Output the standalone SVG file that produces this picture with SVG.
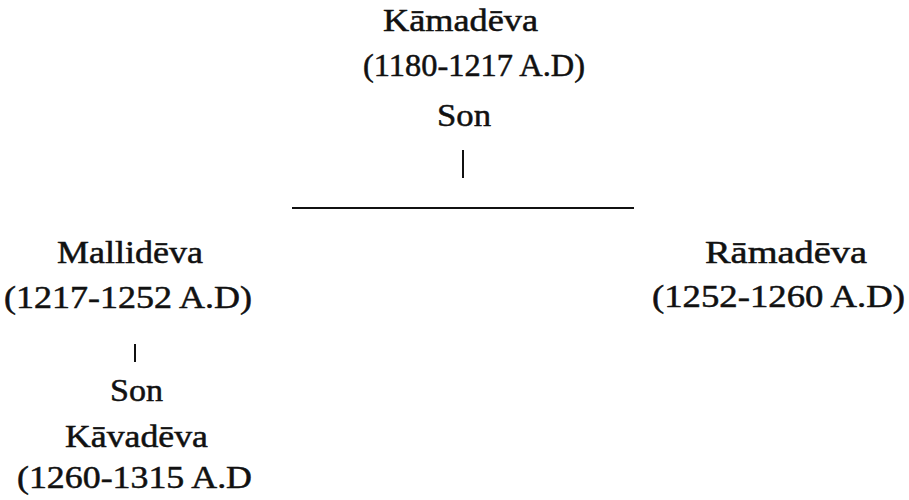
<svg xmlns="http://www.w3.org/2000/svg" width="909" height="500" viewBox="0 0 909 500">
<style>
text{font-family:"Liberation Serif","Times New Roman",serif;font-size:31px;fill:#111;stroke:#111;stroke-width:0.5;}
.c{stroke:#111;stroke-width:2;fill:none;}
</style>
<rect width="909" height="500" fill="#fff"/>
<g id="kamadeva">
<text x="383" y="31" textLength="155" lengthAdjust="spacingAndGlyphs">Kāmadēva</text>
<text x="363" y="76" textLength="222" lengthAdjust="spacingAndGlyphs">(1180-1217 A.D)</text>
<text x="437" y="126" textLength="54" lengthAdjust="spacingAndGlyphs">Son</text>
</g>
<g id="mallideva">
<text x="57" y="263" textLength="146" lengthAdjust="spacingAndGlyphs">Mallidēva</text>
<text x="4" y="308" textLength="248" lengthAdjust="spacingAndGlyphs">(1217-1252 A.D)</text>
<text x="110" y="401" textLength="53" lengthAdjust="spacingAndGlyphs">Son</text>
</g>
<g id="kavadeva">
<text x="65" y="447" textLength="143" lengthAdjust="spacingAndGlyphs">Kāvadēva</text>
<text x="17" y="488" textLength="235" lengthAdjust="spacingAndGlyphs">(1260-1315 A.D</text>
</g>
<g id="ramadeva">
<text x="705" y="263" textLength="162" lengthAdjust="spacingAndGlyphs">Rāmadēva</text>
<text x="652" y="307" textLength="253" lengthAdjust="spacingAndGlyphs">(1252-1260 A.D)</text>
</g>
<g id="connectors">
<line class="c" x1="463" y1="150" x2="463" y2="178"/>
<line class="c" x1="292" y1="208" x2="634" y2="208"/>
<line class="c" x1="135" y1="344" x2="135" y2="362"/>
</g>
</svg>
